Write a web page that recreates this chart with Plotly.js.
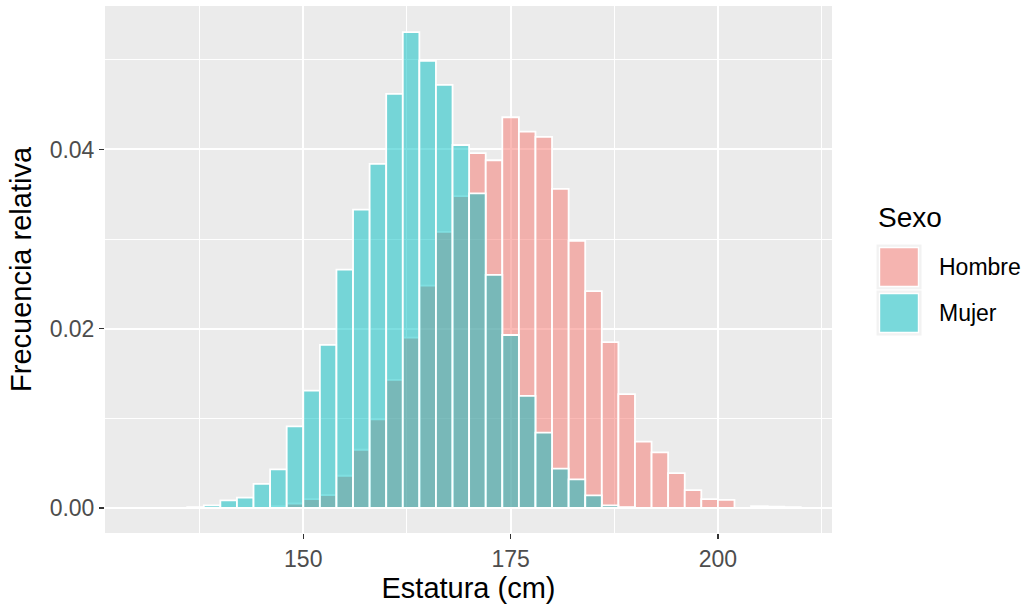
<!DOCTYPE html>
<html>
<head>
<meta charset="utf-8">
<script src="https://cdn.plot.ly/plotly-3.0.1.min.js"></script>
<style>
  html, body { margin: 0; padding: 0; background: #ffffff; }
  #chart { width: 1027px; height: 608px; }
</style>
</head>
<body>
<div id="chart"></div>
<script>
// Bin centres (binwidth = 2 cm, edges at even values 130..210)
const binCenters = [131,133,135,137,139,141,143,145,147,149,151,153,155,157,159,161,163,165,167,169,
                    171,173,175,177,179,181,183,185,187,189,191,193,195,197,199,201,203,205,207,209];
const binWidth = 2;

// Relative frequency (density) per bin
const hombre = [0,0,0,0,0,0,0,0,0.0002,0.0005,0.0010,0.00145,0.0036,0.0065,0.0099,0.0143,0.0190,0.0248,0.0308,0.0348,
                0.0396,0.0388,0.0436,0.0420,0.0414,0.0356,0.0298,0.0242,0.0185,0.0127,0.0074,0.0062,0.0039,0.0020,0.0010,0.0009,0,0.0002,0.00015,0.0001];
const mujer  = [0,0,0,0.0001,0.0003,0.00086,0.00115,0.0027,0.0043,0.0091,0.0131,0.0182,0.0266,0.0333,0.0384,0.0462,0.0531,0.0499,0.0472,0.0405,
                0.0351,0.0260,0.0193,0.0125,0.0084,0.0044,0.0032,0.0014,0.0003,0.0001,0,0,0,0,0,0,0,0,0,0];

const seriesNames = ["Hombre", "Mujer"];
const fillColors = ["rgba(248,118,109,0.5)", "rgba(0,191,196,0.5)"];

const xTickVals = [150, 175, 200];
const yTickVals = [0, 0.02, 0.04];

const font = "'Liberation Sans', Arial, Helvetica, sans-serif";

const traces = [hombre, mujer].map((vals, i) => ({
  type: "bar",
  name: seriesNames[i],
  x: binCenters,
  y: vals,
  width: binCenters.map(() => binWidth),
  marker: { color: fillColors[i], line: { color: "#ffffff", width: 1.8 } },
  showlegend: false,
  hoverinfo: "x+y+name"
}));

// Custom ggplot-like legend (in paper coordinates)
const L = 105, R = 832, T = 6, B = 533;
const px2x = p => (p - L) / (R - L);
const px2y = p => (B - p) / (B - T);

const shapes = [];
const annotations = [];
annotations.push({
  xref: "paper", yref: "paper", x: px2x(876), y: px2y(217), xanchor: "left", yanchor: "middle",
  text: "Sexo", showarrow: false, font: { family: font, size: 28, color: "#000000" }
});
seriesNames.forEach((nm, i) => {
  const top = 244 + i * 46, bot = top + 46;
  shapes.push({ type: "rect", xref: "paper", yref: "paper",
    x0: px2x(876), x1: px2x(922), y0: px2y(bot), y1: px2y(top),
    fillcolor: "#F2F2F2", line: { color: "#ffffff", width: 1 } });
  shapes.push({ type: "rect", xref: "paper", yref: "paper",
    x0: px2x(879.5), x1: px2x(918.5), y0: px2y(bot - 3.5), y1: px2y(top + 3.5),
    fillcolor: fillColors[i], line: { color: "#ffffff", width: 1.4 } });
  annotations.push({
    xref: "paper", yref: "paper", x: px2x(937), y: px2y(top + 23), xanchor: "left", yanchor: "middle",
    text: nm, showarrow: false, font: { family: font, size: 23, color: "#000000" }
  });
});

const layout = {
  width: 1027, height: 608,
  paper_bgcolor: "#ffffff",
  plot_bgcolor: "#EBEBEB",
  margin: { l: L, r: 1027 - R, t: T, b: 608 - B, pad: 0 },
  barmode: "overlay",
  bargap: 0,
  showlegend: false,
  font: { family: font },
  xaxis: {
    range: [126.09, 213.76],
    tickvals: xTickVals,
    ticktext: xTickVals.map(String),
    showgrid: true, gridcolor: "#ffffff", gridwidth: 2,
    minor: { dtick: 12.5, tick0: 150, showgrid: true, gridcolor: "#ffffff", gridwidth: 1, ticks: "" },
    zeroline: false, showline: false,
    ticks: "outside", ticklen: 5, tickwidth: 1.5, tickcolor: "#333333",
    tickfont: { family: font, size: 23, color: "#4D4D4D" },
    title: { text: "Estatura (cm)", font: { family: font, size: 29, color: "#000000" }, standoff: 5 },
    automargin: false,
    fixedrange: true
  },
  yaxis: {
    range: [-0.00279, 0.05601],
    tickvals: yTickVals,
    ticktext: yTickVals.map(v => v.toFixed(2)),
    showgrid: true, gridcolor: "#ffffff", gridwidth: 2,
    minor: { dtick: 0.01, tick0: 0, showgrid: true, gridcolor: "#ffffff", gridwidth: 1, ticks: "" },
    zeroline: false, showline: false,
    ticks: "outside", ticklen: 5, tickwidth: 1.5, tickcolor: "#333333",
    tickfont: { family: font, size: 23, color: "#4D4D4D" },
    title: { text: "Frecuencia relativa", font: { family: font, size: 29, color: "#000000" }, standoff: 9 },
    automargin: false,
    fixedrange: true
  },
  shapes: shapes,
  annotations: annotations
};

Plotly.newPlot("chart", traces, layout, { displayModeBar: false, staticPlot: true });
</script>
</body>
</html>
